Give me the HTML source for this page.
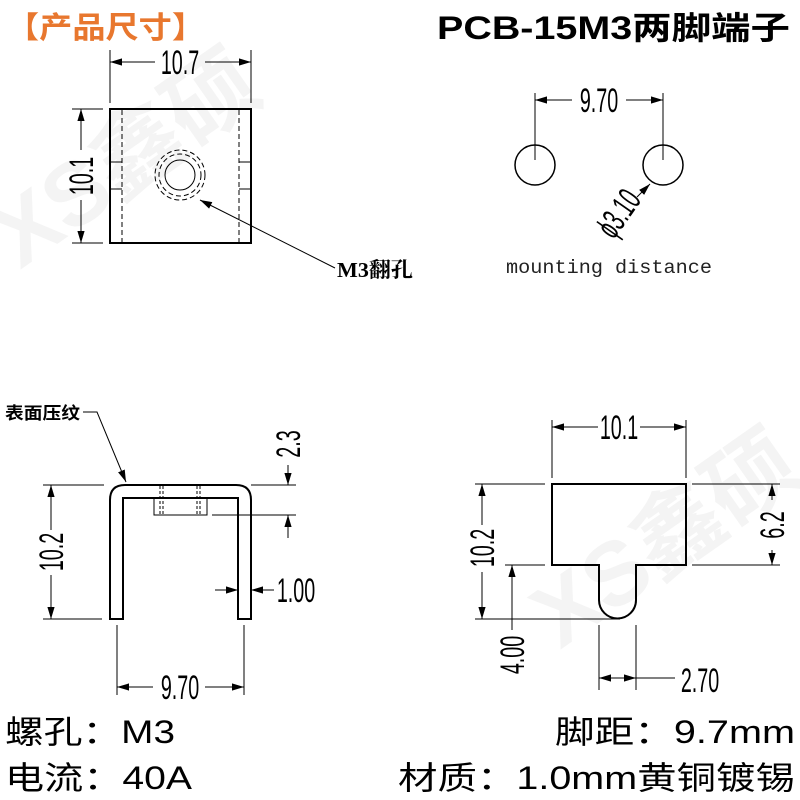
<!DOCTYPE html>
<html><head><meta charset="utf-8"><style>
body{margin:0;background:#fff;}
svg{display:block}
.cj{font-family:"Liberation Sans","Noto Sans CJK SC",sans-serif;}
.d{font-family:"Liberation Sans",sans-serif;font-size:34px;}
</style></head><body>
<svg width="800" height="800" viewBox="0 0 800 800" xmlns="http://www.w3.org/2000/svg">
<defs>
<marker id="a" viewBox="0 0 10 10" refX="10" refY="5" markerWidth="12" markerHeight="12" markerUnits="userSpaceOnUse" orient="auto-start-reverse"><path d="M0,2 L10,5 L0,8 z" fill="#000"/></marker>
</defs>
<g fill="#f4f4f4" class="cj" font-weight="bold" font-size="90">
<text transform="translate(20,270) rotate(-35)">XS鑫硕</text>
<text transform="translate(560,650) rotate(-35)">XS鑫硕</text>
</g>
<text x="6" y="38" class="cj" font-size="30" font-weight="bold" fill="#e8772e" textLength="199" lengthAdjust="spacingAndGlyphs">【产品尺寸】</text>
<text x="437" y="39" class="cj" font-size="32" font-weight="bold" fill="#000" textLength="353" lengthAdjust="spacingAndGlyphs">PCB-15M3两脚端子</text>

<g stroke="#000" fill="none" stroke-width="1">
<rect x="110" y="109" width="141" height="134" stroke-width="2"/>
<line x1="122" y1="110" x2="122" y2="242" stroke-dasharray="5,3"/>
<line x1="239" y1="110" x2="239" y2="242" stroke-dasharray="5,3"/>
<line x1="110" y1="162" x2="122" y2="162"/><line x1="110" y1="189" x2="122" y2="189"/>
<line x1="239" y1="162" x2="251" y2="162"/><line x1="239" y1="189" x2="251" y2="189"/>
<circle cx="180" cy="175" r="25" stroke-dasharray="5,3"/>
<circle cx="180" cy="175" r="21" stroke-dasharray="5,3"/>
<circle cx="180" cy="175" r="15"/>
<line x1="110" y1="50" x2="110" y2="103"/><line x1="251" y1="50" x2="251" y2="103"/>
<line x1="110" y1="62" x2="155" y2="62" marker-start="url(#a)"/>
<line x1="205" y1="62" x2="251" y2="62" marker-end="url(#a)"/>
<line x1="72" y1="109" x2="103" y2="109"/><line x1="72" y1="243" x2="103" y2="243"/>
<line x1="81" y1="109" x2="81" y2="150" marker-start="url(#a)"/>
<line x1="81" y1="200" x2="81" y2="243" marker-end="url(#a)"/>
<line x1="335" y1="268" x2="200" y2="200" marker-end="url(#a)"/>

<circle cx="535" cy="165" r="20" stroke-width="1.5"/>
<circle cx="663" cy="165" r="20" stroke-width="1.5"/>
<line x1="535" y1="93" x2="535" y2="160"/><line x1="663" y1="93" x2="663" y2="160"/>
<line x1="535" y1="100" x2="572" y2="100" marker-start="url(#a)"/>
<line x1="626" y1="100" x2="663" y2="100" marker-end="url(#a)"/>
<line x1="637" y1="197" x2="650" y2="184" marker-end="url(#a)"/>

<path d="M110,619 L110,500 Q110,485 125,485 L236,485 Q251,485 251,500 L251,619 L238,619 L238,498 L123,498 L123,619 Z" stroke-width="2"/>
<rect x="154" y="498" width="53" height="17"/>
<line x1="160" y1="486" x2="160" y2="515" stroke-dasharray="3,2"/><line x1="163" y1="486" x2="163" y2="515" stroke-dasharray="3,2"/>
<line x1="197" y1="486" x2="197" y2="515" stroke-dasharray="3,2"/><line x1="200" y1="486" x2="200" y2="515" stroke-dasharray="3,2"/>
<line x1="43" y1="485" x2="104" y2="485"/><line x1="43" y1="619" x2="102" y2="619"/>
<line x1="51" y1="485" x2="51" y2="530" marker-start="url(#a)"/>
<line x1="51" y1="575" x2="51" y2="619" marker-end="url(#a)"/>
<line x1="251" y1="485" x2="296" y2="485"/><line x1="212" y1="515" x2="296" y2="515"/>
<line x1="288" y1="465" x2="288" y2="485" marker-end="url(#a)"/>
<line x1="288" y1="538" x2="288" y2="515" marker-end="url(#a)"/>
<line x1="215" y1="590" x2="238" y2="590" marker-end="url(#a)"/>
<line x1="274" y1="590" x2="251" y2="590" marker-end="url(#a)"/>
<line x1="117" y1="625" x2="117" y2="695"/><line x1="244" y1="625" x2="244" y2="695"/>
<line x1="117" y1="687" x2="153" y2="687" marker-start="url(#a)"/>
<line x1="205" y1="687" x2="244" y2="687" marker-end="url(#a)"/>
<path d="M83,412 L97,412 L126,482" marker-end="url(#a)"/>

<path d="M552,484 L686,484 L686,565 L636,565 L636,600 A18.5,18.5 0 0 1 599,600 L599,565 L552,565 Z" stroke-width="2"/>
<line x1="552" y1="420" x2="552" y2="478"/><line x1="686" y1="420" x2="686" y2="478"/>
<line x1="552" y1="427" x2="598" y2="427" marker-start="url(#a)"/>
<line x1="640" y1="427" x2="686" y2="427" marker-end="url(#a)"/>
<line x1="475" y1="484" x2="545" y2="484"/><line x1="475" y1="619" x2="620" y2="619"/>
<line x1="505" y1="565" x2="545" y2="565"/>
<line x1="482" y1="484" x2="482" y2="525" marker-start="url(#a)"/>
<line x1="482" y1="572" x2="482" y2="619" marker-end="url(#a)"/>
<line x1="512" y1="565" x2="512" y2="630" marker-start="url(#a)"/>
<line x1="692" y1="484" x2="780" y2="484"/><line x1="692" y1="565" x2="780" y2="565"/>
<line x1="772" y1="484" x2="772" y2="500" marker-start="url(#a)"/>
<line x1="772" y1="550" x2="772" y2="565" marker-end="url(#a)"/>
<line x1="599" y1="625" x2="599" y2="690"/><line x1="636" y1="625" x2="636" y2="690"/>
<line x1="599" y1="678" x2="636" y2="678" marker-start="url(#a)" marker-end="url(#a)"/>
<line x1="636" y1="678" x2="675" y2="678"/>
</g>

<g class="d" fill="#000">
<text transform="translate(180,74) scale(0.58,1)" text-anchor="middle">10.7</text>
<text transform="translate(93,176) rotate(-90) scale(0.58,1)" text-anchor="middle">10.1</text>
<text transform="translate(599,112) scale(0.58,1)" text-anchor="middle">9.70</text>
<text transform="translate(628,220) rotate(-55) scale(0.58,1)" text-anchor="middle">ϕ3.10</text>
<text transform="translate(63,552) rotate(-90) scale(0.58,1)" text-anchor="middle">10.2</text>
<text transform="translate(300,444) rotate(-90) scale(0.58,1)" text-anchor="middle">2.3</text>
<text transform="translate(296,602) scale(0.58,1)" text-anchor="middle">1.00</text>
<text transform="translate(180,699) scale(0.58,1)" text-anchor="middle">9.70</text>
<text transform="translate(619,439) scale(0.58,1)" text-anchor="middle">10.1</text>
<text transform="translate(494,548) rotate(-90) scale(0.58,1)" text-anchor="middle">10.2</text>
<text transform="translate(524,655) rotate(-90) scale(0.58,1)" text-anchor="middle">4.00</text>
<text transform="translate(784,525) rotate(-90) scale(0.58,1)" text-anchor="middle">6.2</text>
<text transform="translate(700,692) scale(0.58,1)" text-anchor="middle">2.70</text>
</g>
<text x="337" y="277" font-family="Liberation Serif,Noto Serif CJK SC,serif" font-weight="bold" font-size="21" textLength="76" lengthAdjust="spacingAndGlyphs">M3翻孔</text>
<text x="506" y="273" font-family="Liberation Mono,monospace" font-size="19" fill="#222" textLength="206" lengthAdjust="spacingAndGlyphs">mounting distance</text>
<text x="5" y="419" class="cj" font-weight="bold" font-size="17" textLength="75" lengthAdjust="spacingAndGlyphs">表面压纹</text>

<g class="cj" font-size="32" fill="#000">
<text x="5" y="743" textLength="170" lengthAdjust="spacingAndGlyphs">螺孔：M3</text>
<text x="5" y="789" textLength="187" lengthAdjust="spacingAndGlyphs">电流：40A</text>
<text x="555" y="743" textLength="240" lengthAdjust="spacingAndGlyphs">脚距：9.7mm</text>
<text x="398" y="789" textLength="397" lengthAdjust="spacingAndGlyphs">材质：1.0mm黄铜镀锡</text>
</g>
</svg>
</body></html>
